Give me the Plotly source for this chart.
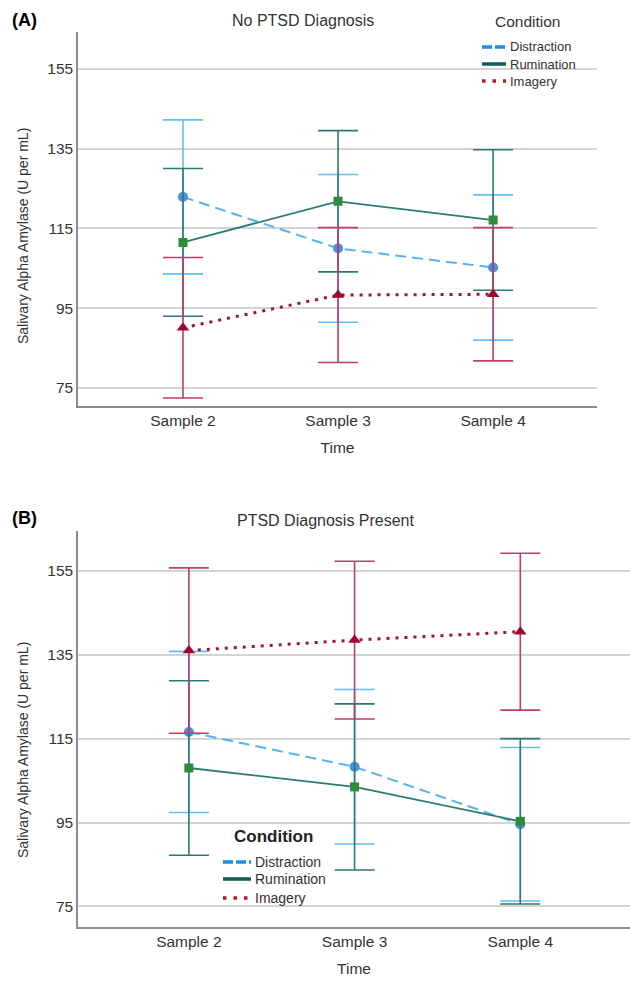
import plotly.graph_objects as go

W, H = 630, 986

categories = ["Sample 2", "Sample 3", "Sample 4"]
conditions = ["Distraction", "Rumination", "Imagery"]

# Panel A: No PTSD Diagnosis (means and error half-widths)
a_distraction = [122.9, 110.0, 105.2]
a_distraction_err = [19.3, 18.5, 18.2]
a_rumination = [111.5, 121.8, 117.1]
a_rumination_err = [18.5, 17.7, 17.6]
a_imagery = [90.1, 98.3, 98.5]
a_imagery_err = [17.6, 16.9, 16.7]

# Panel B: PTSD Diagnosis Present
b_distraction = [116.6, 108.3, 94.6]
b_distraction_err = [19.2, 18.4, 18.3]
b_rumination = [108.0, 103.5, 95.3]
b_rumination_err = [20.8, 19.8, 19.7]
b_imagery = [136.0, 138.5, 140.5]
b_imagery_err = [19.7, 18.8, 18.7]

y_ticks = [75, 95, 115, 135, 155]

FONT = "Liberation Sans Narrow, Liberation Sans, Arial, sans-serif"
TXT = "#333333"

styles = {
    "Distraction": dict(line=dict(color="#52b4f2", width=2, dash="11px,6px"),
                        marker=dict(symbol="circle", size=10, color="#4a8fe0"),
                        ebar="#62bff5", leg=dict(color="#1e8fe6", width=3.5, dash="10px,3px")),
    "Rumination": dict(line=dict(color="#2b7c72", width=1.8),
                       marker=dict(symbol="square", size=9, color="#2f8a3a"),
                       ebar="#2a7a73", leg=dict(color="#0e5f57", width=3.5, dash="solid")),
    "Imagery": dict(line=dict(color="#a3132f", width=3, dash="3px,6px"),
                    marker=dict(symbol="triangle-up", size=11, color="#a0062e"),
                    ebar="#c23a6e", leg=dict(color="#b0182e", width=3.5, dash="3.5px,7px")),
}

panels = [
    dict(data={"Distraction": (a_distraction, a_distraction_err),
               "Rumination": (a_rumination, a_rumination_err),
               "Imagery": (a_imagery, a_imagery_err)},
         xdom=(78, 597), ytop=31.7, ybot=406, yrange=[70.5, 164.3], xrange=[-0.677, 2.67],
         xa="x", ya="y"),
    dict(data={"Distraction": (b_distraction, b_distraction_err),
               "Rumination": (b_rumination, b_rumination_err),
               "Imagery": (b_imagery, b_imagery_err)},
         xdom=(78, 630), ytop=531, ybot=927, yrange=[70.1, 164.5], xrange=[-0.669, 2.662],
         xa="x2", ya="y2"),
]

fig = go.Figure()

for p in panels:
    for cond in conditions:
        vals, errs = p["data"][cond]
        st = styles[cond]
        fig.add_trace(go.Scatter(
            x=categories, y=vals, mode="lines+markers",
            line=st["line"], marker=st["marker"],
            error_y=dict(type="data", array=errs, visible=True, color=st["ebar"],
                         thickness=1.6, width=20),
            xaxis=p["xa"], yaxis=p["ya"], showlegend=False, name=cond,
        ))

def px_x(v):
    return v / W

def px_y(v):
    return 1 - v / H

layout = dict(
    width=W, height=H, margin=dict(l=0, r=0, t=0, b=0),
    paper_bgcolor="white", plot_bgcolor="white",
    font=dict(family=FONT, color=TXT, size=14),
    showlegend=False,
)

for i, p in enumerate(panels):
    xk = "xaxis" if i == 0 else "xaxis2"
    yk = "yaxis" if i == 0 else "yaxis2"
    layout[xk] = dict(
        domain=[px_x(p["xdom"][0]), px_x(p["xdom"][1])],
        anchor=p["ya"], type="category", range=p["xrange"],
        showline=True, linecolor="#8c8c8c", linewidth=1.5,
        showgrid=False, ticks="", tickfont=dict(size=15.5, color=TXT, family=FONT),
        title=dict(text="Time", font=dict(size=15.5, color=TXT, family=FONT), standoff=14),
        zeroline=False,
    )
    layout[yk] = dict(
        domain=[px_y(p["ybot"]), px_y(p["ytop"])],
        anchor=p["xa"], range=p["yrange"], tickvals=y_ticks,
        showline=True, linecolor="#8c8c8c", linewidth=1.5,
        showgrid=True, gridcolor="#d4d4d4", gridwidth=1.5,
        ticks="", tickfont=dict(size=15.5, color=TXT, family=FONT),
        zeroline=False,
    )

fig.update_layout(**layout)

ann = []
shapes = []

# panel labels and titles
ann.append(dict(text="<b>(A)</b>", x=px_x(10), y=px_y(20), xref="paper", yref="paper",
                xanchor="left", yanchor="middle", showarrow=False,
                font=dict(size=18, color="black", family="Liberation Sans, Arial")))
ann.append(dict(text="<b>(B)</b>", x=px_x(10), y=px_y(518), xref="paper", yref="paper",
                xanchor="left", yanchor="middle", showarrow=False,
                font=dict(size=18, color="black", family="Liberation Sans, Arial")))
ann.append(dict(text="No PTSD Diagnosis", x=px_x(303), y=px_y(20), xref="paper", yref="paper",
                xanchor="center", yanchor="middle", showarrow=False,
                font=dict(size=16, color=TXT, family=FONT)))
ann.append(dict(text="PTSD Diagnosis Present", x=px_x(326), y=px_y(520), xref="paper", yref="paper",
                xanchor="center", yanchor="middle", showarrow=False,
                font=dict(size=16, color=TXT, family=FONT)))

# y-axis titles
for yc in (236, 750):
    ann.append(dict(text="Salivary Alpha Amylase (U per mL)", x=px_x(23), y=px_y(yc),
                    xref="paper", yref="paper", xanchor="center", yanchor="middle",
                    textangle=-90, showarrow=False,
                    font=dict(size=14, color=TXT, family=FONT)))

# legends (manual)
legends = [
    dict(title="Condition", bold=False, tx=528, ty=22, tsize=15.5,
         x0=482, x1=506, ys=[47, 64, 81], size=13),
    dict(title="<b>Condition</b>", bold=True, tx=273, ty=836, tsize=17,
         x0=223, x1=251, ys=[862, 879, 898], size=14),
]
for lg in legends:
    ann.append(dict(text=lg["title"], x=px_x(lg["tx"]), y=px_y(lg["ty"]), xref="paper",
                    yref="paper", xanchor="center", yanchor="middle", showarrow=False,
                    font=dict(size=lg["tsize"], color="#222" if lg["bold"] else TXT,
                              family="Liberation Sans, Arial" if lg["bold"] else FONT)))
    for cond, yy in zip(conditions, lg["ys"]):
        st = styles[cond]["leg"]
        shapes.append(dict(type="line", xref="paper", yref="paper",
                           x0=px_x(lg["x0"]), x1=px_x(lg["x1"]), y0=px_y(yy), y1=px_y(yy),
                           line=dict(color=st["color"], width=st["width"], dash=st["dash"])))
        ann.append(dict(text=cond, x=px_x(lg["x1"] + 2), y=px_y(yy), xref="paper", yref="paper",
                        xanchor="left", yanchor="middle", showarrow=False,
                        font=dict(size=lg["size"], color=TXT, family=FONT)))

fig.update_layout(annotations=ann, shapes=shapes)

fig.write_html("out.html", config={"displayModeBar": False},
               post_script="document.body.style.margin='0';")
